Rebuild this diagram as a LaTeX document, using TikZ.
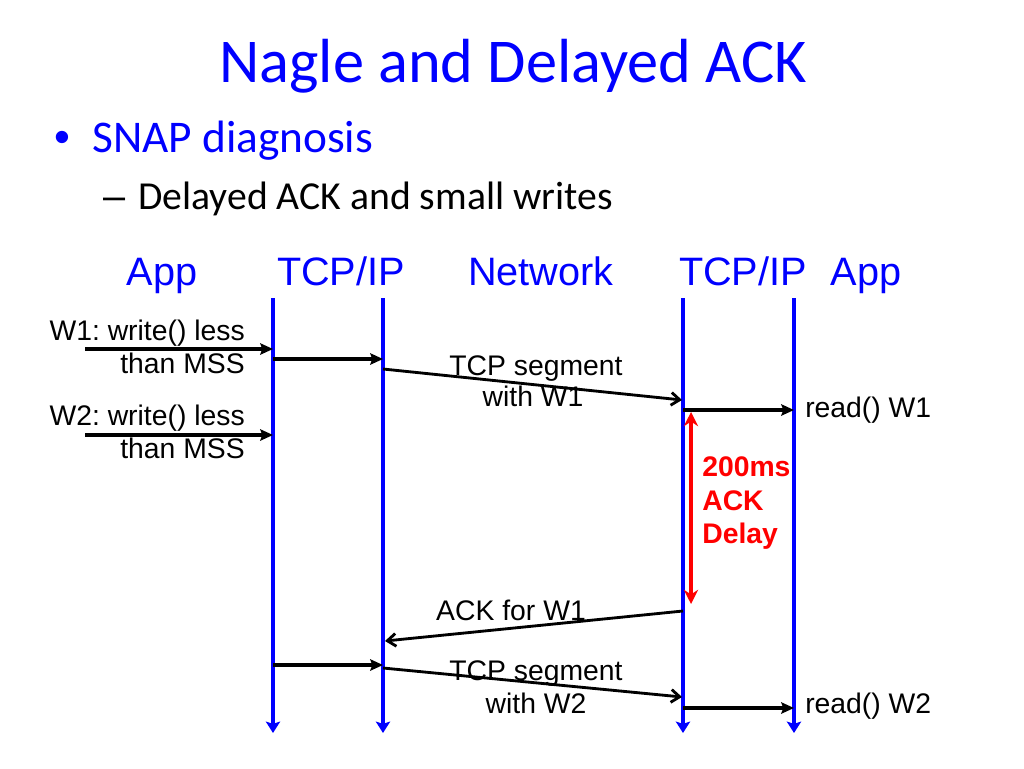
\documentclass[tikz,border=0pt]{standalone}
\usepackage{fontspec}
\setmainfont{Liberation Sans}
\newfontfamily\calibri{Carlito}
\usetikzlibrary{arrows.meta}
\frenchspacing

\begin{document}
\begin{tikzpicture}[x=0.024805cm,y=-0.024805cm,
	life/.style={draw=blue,line width=3pt,-{Stealth[length=8pt,width=10pt,inset=1.5pt]}},
	msg/.style={line width=2.6pt,-{Stealth[length=9pt,width=8pt,inset=1.5pt]}},
	slant/.style={line width=2pt,-{Straight Barb[length=6pt,width=9pt]}},
	delay/.style={draw=red,line width=2.4pt,{Stealth[length=10pt,width=10pt]}-{Stealth[length=10pt,width=10pt]}},
	lbl/.style={inner sep=0pt,font=\fontsize{20}{22}\selectfont},
	head/.style={inner sep=0pt,text=blue,font=\fontsize{28}{32}\selectfont,anchor=base}]
	\useasboundingbox (0,0) rectangle (1024,768);
	\node[inner sep=0pt,anchor=base,text=blue] (title) at (513,82) {\calibri\fontsize{44}{52}\selectfont Nagle and Delayed ACK};
	\node[inner sep=0pt,anchor=base west,text=blue] (dot) at (54,152) {\fontsize{32}{36}\selectfont •};
	\node[inner sep=0pt,anchor=base west,text=blue] (snap) at (92,152) {\calibri\fontsize{32}{36}\selectfont SNAP diagnosis};
	\node[inner sep=0pt,anchor=base west] (dash) at (103,209) {\fontsize{28}{32}\selectfont –};
	\node[inner sep=0pt,anchor=base west] (sub) at (138,209) {\calibri\fontsize{28}{32}\selectfont Delayed ACK and small writes};
	\node[head] (app1) at (162,285) {App};
	\node[head] (tcp1) at (341,285) {TCP/IP};
	\node[head] (net) at (541,285) {Network};
	\node[head] (tcp2) at (743,285) {TCP/IP};
	\node[head] (app2) at (866,285) {App};
	\coordinate (appL) at (273,298); \coordinate (appLb) at (273,733);
	\coordinate (tcpL) at (383,298); \coordinate (tcpLb) at (383,733);
	\coordinate (tcpR) at (683,298); \coordinate (tcpRb) at (683,733);
	\coordinate (appR) at (794,298); \coordinate (appRb) at (794,733);
	\draw[life] (appL) -- (appLb);
	\draw[life] (tcpL) -- (tcpLb);
	\draw[life] (tcpR) -- (tcpRb);
	\draw[life] (appR) -- (appRb);
	\coordinate (w1) at (85,349);
	\draw[msg] (w1) -- (w1 -| appL);
	\coordinate (s1) at (273,359);
	\draw[msg] (s1) -- (s1 -| tcpL);
	\coordinate (seg1a) at (383,369); \coordinate (seg1b) at (682,400);
	\draw[slant] (seg1a) -- (seg1b);
	\coordinate (w2) at (85,435);
	\draw[msg] (w2) -- (w2 -| appL);
	\coordinate (r1) at (683,410);
	\draw[msg] (r1) -- (r1 -| appR);
	\coordinate (d1) at (691,412); \coordinate (d2) at (691,604);
	\draw[delay] (d1) -- (d2);
	\coordinate (ack1a) at (683,611); \coordinate (ack1b) at (385,641);
	\draw[slant] (ack1a) -- (ack1b);
	\coordinate (s2) at (273,665);
	\draw[msg] (s2) -- (s2 -| tcpL);
	\coordinate (seg2a) at (383,668); \coordinate (seg2b) at (682,697);
	\draw[slant] (seg2a) -- (seg2b);
	\coordinate (r2) at (683,708);
	\draw[msg] (r2) -- (r2 -| appR);
	\node[lbl,anchor=base east] (w1a) at (245,340) {W1: write() less};
	\node[lbl,anchor=base east] (w1b) at (245,373) {than MSS};
	\node[lbl,anchor=base east] (w2a) at (245,425) {W2: write() less};
	\node[lbl,anchor=base east] (w2b) at (245,458) {than MSS};
	\node[lbl,anchor=base] (seg1t) at (536,375) {TCP segment};
	\node[lbl,anchor=base] (seg1w) at (533,406) {with W1};
	\node[lbl,anchor=base west] (read1) at (805,417) {read() W1};
	\node[lbl,anchor=base west,text=red,font=\bfseries\fontsize{20}{22}\selectfont] (ms) at (702,476) {200ms};
	\node[lbl,anchor=base west,text=red,font=\bfseries\fontsize{20}{22}\selectfont] (ackd) at (702,510) {ACK};
	\node[lbl,anchor=base west,text=red,font=\bfseries\fontsize{20}{22}\selectfont] (dly) at (702,543) {Delay};
	\node[lbl,anchor=base] (ackt) at (511,620) {ACK for W1};
	\node[lbl,anchor=base] (seg2t) at (536,680) {TCP segment};
	\node[lbl,anchor=base] (seg2w) at (536,713) {with W2};
	\node[lbl,anchor=base west] (read2) at (805,713) {read() W2};
\end{tikzpicture}
\end{document}
